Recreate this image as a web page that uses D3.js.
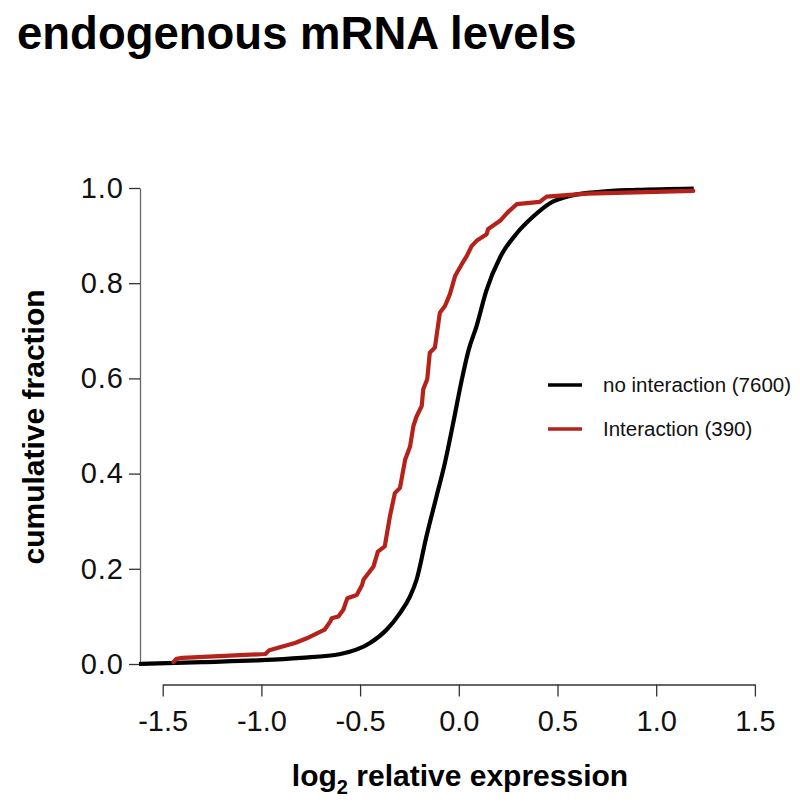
<!DOCTYPE html>
<html><head><meta charset="utf-8">
<script src="https://cdn.jsdelivr.net/npm/d3@7"></script>
<style>body{margin:0;background:#fff}svg{display:block}text{font-family:"Liberation Sans",Arial,sans-serif}</style>
</head><body><svg id="c" width="800" height="808"></svg>
<script>
const xTicks = [-1.5, -1.0, -0.5, 0.0, 0.5, 1.0, 1.5];
const yTicks = [0.0, 0.2, 0.4, 0.6, 0.8, 1.0];
const seriesNames = ["no interaction (7600)", "Interaction (390)"];
const seriesColors = ["#000000", "#b5221a"];
const noInterX = [-1.62,-1.3,-1.0,-0.8,-0.6,-0.45,-0.366,-0.298,-0.247,-0.214,-0.164,-0.113,-0.07,-0.028,0.015,0.05,0.09,0.14,0.21,0.294,0.377,0.462,0.58,0.715,0.9,1.19];
const noInterY = [0.0,0.004,0.008,0.013,0.021,0.044,0.072,0.107,0.142,0.177,0.268,0.352,0.423,0.507,0.597,0.66,0.71,0.785,0.855,0.905,0.94,0.968,0.985,0.992,0.996,0.999];
const interX = [-1.446,-1.43,-1.40,-0.98,-0.96,-0.83,-0.77,-0.68,-0.65,-0.644,-0.61,-0.585,-0.565,-0.517,-0.49,-0.483,-0.432,-0.41,-0.375,-0.349,-0.324,-0.298,-0.272,-0.247,-0.23,-0.214,-0.188,-0.18,-0.16,-0.155,-0.147,-0.121,-0.096,-0.07,-0.045,-0.019,0.015,0.04,0.065,0.09,0.141,0.149,0.209,0.25,0.294,0.41,0.445,0.65,1.188];
const interY = [0.004,0.011,0.013,0.021,0.029,0.044,0.054,0.072,0.09,0.096,0.10,0.114,0.138,0.145,0.166,0.177,0.205,0.236,0.247,0.31,0.359,0.37,0.429,0.457,0.50,0.52,0.542,0.577,0.598,0.619,0.654,0.665,0.738,0.752,0.777,0.815,0.84,0.857,0.878,0.889,0.903,0.914,0.931,0.95,0.966,0.971,0.982,0.988,0.994];

const svg = d3.select("#c");
const x = d3.scaleLinear().domain([-1.5, 1.5]).range([162.7, 754.9]);
const y = d3.scaleLinear().domain([0, 1]).range([664, 188]);
const axisY0 = 684.5, axisX0 = 140;
const fmt = d => d3.format(".1f")(d).replace("\u2212", "-");

svg.append("text").attr("x", 17).attr("y", 49).attr("font-size", 45.5).attr("font-weight", "bold").text("endogenous mRNA levels");

// x axis
const gx = svg.append("g").attr("transform", `translate(0,${axisY0})`)
  .call(d3.axisBottom(x).tickValues(xTicks).tickFormat(fmt).tickSize(12).tickPadding(14).tickSizeOuter(0));
gx.select(".domain").attr("stroke", "#333").attr("stroke-width", 1.3);
gx.selectAll(".tick line").attr("stroke", "#333").attr("stroke-width", 1.3);
gx.selectAll(".tick text").attr("font-size", 29).attr("fill", "#111").attr("font-family", "Liberation Sans, Arial, sans-serif");

// y axis
const gy = svg.append("g").attr("transform", `translate(${axisX0},0)`)
  .call(d3.axisLeft(y).tickValues(yTicks).tickFormat(fmt).tickSize(11).tickPadding(5).tickSizeOuter(0));
gy.select(".domain").attr("stroke", "#666").attr("stroke-width", 1.3);
gy.selectAll(".tick line").attr("stroke", "#333").attr("stroke-width", 1.3);
gy.selectAll(".tick text").attr("font-size", 29).attr("fill", "#111").attr("letter-spacing", 1).attr("font-family", "Liberation Sans, Arial, sans-serif");

// curves
const black = noInterX.map((v, i) => [v, noInterY[i]]);
const red = interX.map((v, i) => [v, interY[i]]);
const lineSmooth = d3.line().x(d => x(d[0])).y(d => y(d[1])).curve(d3.curveMonotoneX);
const lineLin = d3.line().x(d => x(d[0])).y(d => y(d[1]));
svg.append("path").attr("d", lineSmooth(black)).attr("fill", "none").attr("stroke", seriesColors[0]).attr("stroke-width", 4.2).attr("stroke-linejoin", "round");
svg.append("path").attr("d", lineLin(red)).attr("fill", "none").attr("stroke", seriesColors[1]).attr("stroke-width", 4.2).attr("stroke-linejoin", "round").attr("stroke-linecap", "round");

// legend
seriesNames.forEach((n, i) => {
  const ly = 385 + i * 44;
  svg.append("line").attr("x1", 548).attr("x2", 582).attr("y1", ly).attr("y2", ly).attr("stroke", seriesColors[i]).attr("stroke-width", 3.5);
  svg.append("text").attr("x", 603).attr("y", ly + 7).attr("font-size", 20.5).attr("fill", "#111").text(n);
});

// axis titles
const xt = svg.append("text").attr("x", 460).attr("y", 786).attr("text-anchor", "middle").attr("font-size", 30).attr("font-weight", "bold");
xt.append("tspan").text("log");
xt.append("tspan").attr("font-size", 20).attr("dy", 8).text("2");
xt.append("tspan").attr("dy", -8).text(" relative expression");
svg.append("text").attr("transform", "translate(44,427) rotate(-90)").attr("text-anchor", "middle").attr("font-size", 30).attr("font-weight", "bold").text("cumulative fraction");
</script></body></html>
